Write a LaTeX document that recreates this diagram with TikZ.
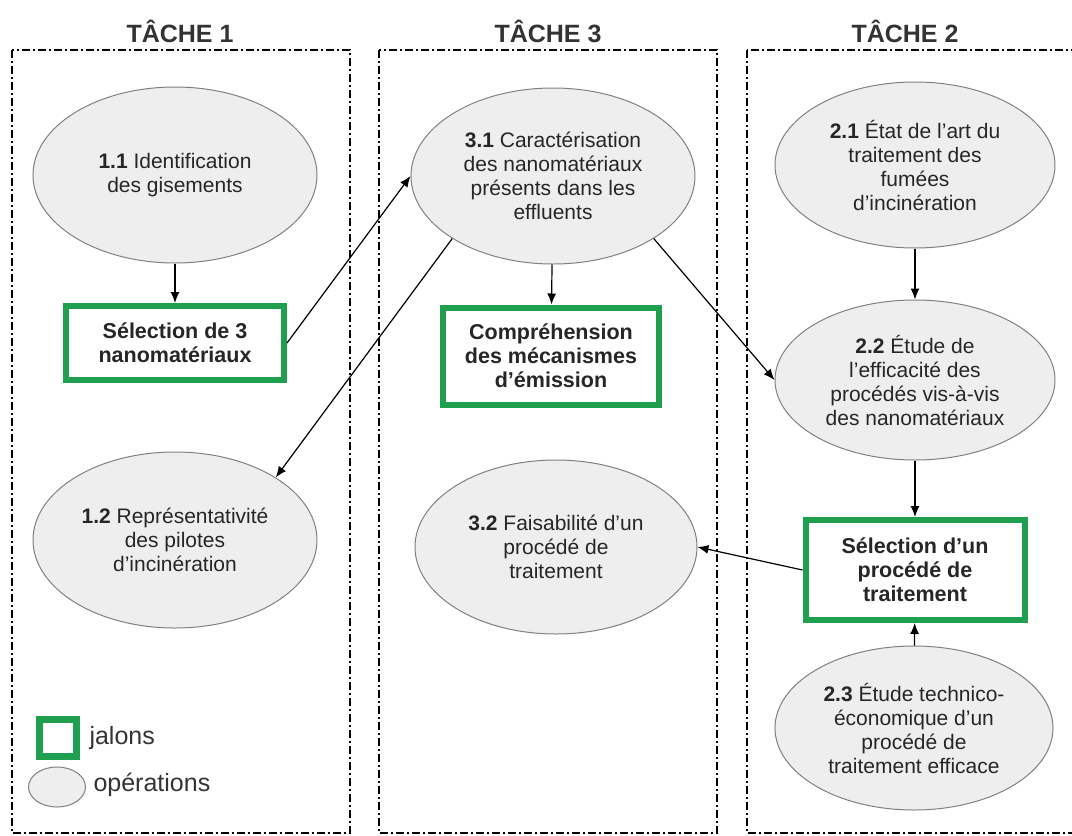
\documentclass[tikz,border=0pt]{standalone}
\usepackage{fontspec}
\setmainfont{Liberation Sans}
\usepackage{tikz}
\usetikzlibrary{arrows.meta,shapes.geometric}

\definecolor{jalongreen}{RGB}{30,160,80}
\definecolor{opfill}{RGB}{238,238,238}

\tikzset{
  tache/.style={draw, line width=1.7pt, dash pattern=on 8pt off 3pt on 2pt off 3pt},
  titre/.style={font=\fontsize{25}{28}\selectfont\bfseries, text=black!80},
  op/.style={ellipse, draw=black!50, fill=opfill, line width=1pt, inner sep=0pt,
    minimum width=284, minimum height=176, align=center,
    font=\fontsize{21}{24}\selectfont, text=black!85},
  jalon/.style={draw=jalongreen, line width=6pt, fill=white, align=center,
    font=\fontsize{21.5}{24}\selectfont\bfseries, text=black!85},
  fleche/.style={-{Latex[length=11pt,width=9pt]}, line width=1.2pt}
}

\begin{document}
\begin{tikzpicture}[x=1pt,y=-1pt]
\useasboundingbox (0,0) rectangle (1072,836);

% taches
\draw[tache] (12,50) rectangle (350,833);
\draw[tache] (379,50) rectangle (717,833);
\draw[tache] (747,50) rectangle (1090,833);
\node[titre] (titre1) at (180,31) {TÂCHE 1};
\node[titre] (titre3) at (548,31) {TÂCHE 3};
\node[titre] (titre2) at (905,31) {TÂCHE 2};

% tache 1
\node[op] (op11) at (175,175) {\textbf{1.1} Identification\\des gisements};
\node[jalon, minimum width=218, minimum height=74] (sel3) at (175,343) {Sélection de 3\\nanomatériaux};
\node[op] (op12) at (175,540) {\textbf{1.2} Représentativité\\des pilotes\\d’incinération};

% tache 3
\node[op] (op31) at (553,176) {\textbf{3.1} Caractérisation\\des nanomatériaux\\présents dans les\\effluents};
\node[jalon, minimum width=216, minimum height=97] (compr) at (551,356) {Compréhension\\des mécanismes\\d’émission};
\node[op, minimum width=282, minimum height=174] (op32) at (556,547) {\textbf{3.2} Faisabilité d’un\\procédé de\\traitement};

% tache 2
\node[op, minimum width=280, minimum height=166] (op21) at (915,165) {\textbf{2.1} État de l’art du\\traitement des\\fumées\\d’incinération};
\node[op, minimum width=280, minimum height=160] (op22) at (915,380) {\textbf{2.2} Étude de\\l’efficacité des\\procédés vis-à-vis\\des nanomatériaux};
\node[jalon, minimum width=219, minimum height=100] (selproc) at (915,570) {Sélection d’un\\procédé de\\traitement};
\node[op, minimum width=278, minimum height=164] (op23) at (914,728) {\textbf{2.3} Étude technico-\\économique d’un\\procédé de\\traitement efficace};

% legende
\node[draw=jalongreen, line width=6.5pt, fill=white, minimum size=37] (legjal) at (58,738) {};
\node[anchor=west, font=\fontsize{25}{28}\selectfont, text=black!80] (txtjal) at (86,738) {jalons};
\node[ellipse, draw=black!50, fill=opfill, line width=1pt, minimum width=57, minimum height=40] (legop) at (57,787) {};
\node[anchor=west, font=\fontsize{25}{28}\selectfont, text=black!80] (txtop) at (90,785) {opérations};

% liens
\draw[fleche] (op11) -- (sel3);
\draw[fleche] (sel3.east) -- (op31.west);
\draw[fleche] (op31.south west) -- (op12.north east);
\draw[fleche] (op31) -- (compr);
\draw[fleche] (op31.south east) -- (op22.west);
\draw[fleche] (op21) -- (op22);
\draw[fleche] (op22) -- (selproc);
\draw[fleche] (op23) -- (selproc);
\draw[fleche] (selproc.west) -- (op32.east);
\end{tikzpicture}
\end{document}
